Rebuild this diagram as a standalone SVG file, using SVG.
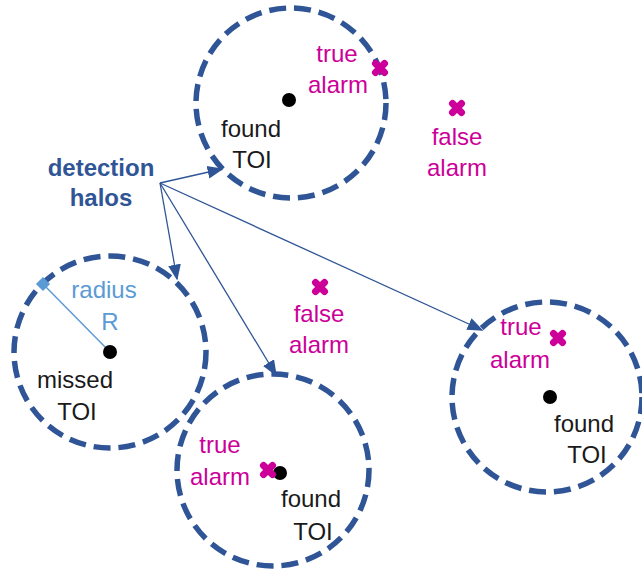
<svg xmlns="http://www.w3.org/2000/svg" width="642" height="575" viewBox="0 0 642 575">
<style>
.halo{fill:none;stroke:#2F5597;stroke-width:5.5;stroke-dasharray:17 8}
.dot{fill:#000}
.t{font-family:"Liberation Sans",Arial,sans-serif;font-size:24px;text-anchor:middle}
.blk{fill:#1a1a1a}
.mag{fill:#CC0099}
.lbl{fill:#2F5597;font-weight:bold}
.rad{fill:#5B9BD5}
.conn{stroke:#2F5597;stroke-width:1.3;fill:none;marker-end:url(#ah)}
.xm{stroke:#CC0099;stroke-width:7;stroke-linecap:round}
</style>
<defs>
<marker id="ah" viewBox="0 0 10 10" refX="9" refY="5" markerWidth="16" markerHeight="16" markerUnits="userSpaceOnUse" orient="auto">
<path d="M0,1 L10,5 L0,9 Z" fill="#2F5597"/>
</marker>
<g id="xmark"><path class="xm" d="M-4.5,-4.5 L4.5,4.5 M4.5,-4.5 L-4.5,4.5"/></g>
</defs>
<rect width="642" height="575" fill="#fff"/>

<g id="halo-top">
<circle class="halo" cx="291" cy="103" r="95"/>
<circle class="dot" cx="289" cy="100" r="7"/>
<text class="t blk" x="251" y="137">found</text>
<text class="t blk" x="252" y="168">TOI</text>
<text class="t mag" x="337" y="62">true</text>
<text class="t mag" x="338" y="93">alarm</text>
<use href="#xmark" x="380" y="68"/>
</g>

<g id="false-alarm-top">
<use href="#xmark" x="457" y="108"/>
<text class="t mag" x="457" y="145">false</text>
<text class="t mag" x="457" y="176">alarm</text>
</g>

<g id="label">
<text class="t lbl" x="101" y="176">detection</text>
<text class="t lbl" x="101" y="206">halos</text>
</g>

<g id="halo-left">
<circle class="halo" cx="110" cy="352" r="96"/>
<line x1="43" y1="284" x2="110" y2="352" stroke="#5B9BD5" stroke-width="1.5"/>
<rect x="38" y="279" width="10" height="10" fill="#5B9BD5" transform="rotate(45 43 284)"/>
<circle class="dot" cx="110" cy="352" r="7"/>
<text class="t rad" x="104" y="298">radius</text>
<text class="t rad" x="110" y="330">R</text>
<text class="t blk" x="75" y="388">missed</text>
<text class="t blk" x="77" y="420">TOI</text>
</g>

<g id="false-alarm-mid">
<use href="#xmark" x="320" y="287"/>
<text class="t mag" x="319" y="322">false</text>
<text class="t mag" x="319" y="353">alarm</text>
</g>

<g id="halo-bottom">
<circle class="halo" cx="273" cy="470" r="96"/>
<circle class="dot" cx="280" cy="473" r="7"/>
<use href="#xmark" x="268" y="470"/>
<text class="t mag" x="220" y="453">true</text>
<text class="t mag" x="220" y="485">alarm</text>
<text class="t blk" x="311" y="507">found</text>
<text class="t blk" x="313" y="540">TOI</text>
</g>

<g id="halo-right">
<circle class="halo" cx="547" cy="397" r="95"/>
<circle class="dot" cx="550" cy="397" r="7"/>
<use href="#xmark" x="558" y="338"/>
<text class="t mag" x="521" y="335">true</text>
<text class="t mag" x="520" y="368">alarm</text>
<text class="t blk" x="584" y="432">found</text>
<text class="t blk" x="587" y="463">TOI</text>
</g>

<g id="connectors">
<path class="conn" d="M160,183 L222,169"/>
<path class="conn" d="M160,183 L177,279"/>
<path class="conn" d="M160,183 L276,375"/>
<path class="conn" d="M160,183 L482,330"/>
</g>
</svg>
